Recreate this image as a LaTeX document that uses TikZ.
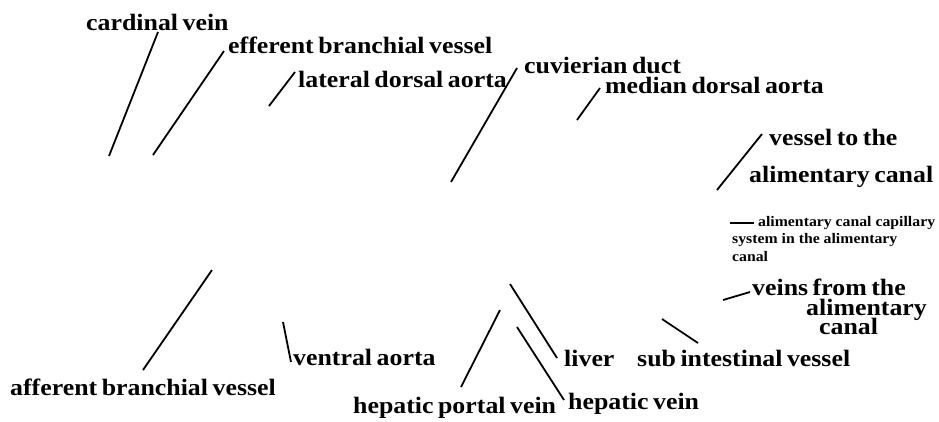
\documentclass[tikz,border=0pt]{standalone}
\usepackage{fontspec}
\setmainfont{Liberation Serif}[FakeStretch=1.1, WordSpace=0.7]
\newfontfamily\smallfam{Liberation Serif}[FakeStretch=1.08]
\begin{document}
\begin{tikzpicture}[x=1pt,y=-1pt,
  lbl/.style={anchor=base west, inner sep=0pt, font=\fontsize{23.5}{23.5}\selectfont\bfseries},
  small/.style={anchor=base west, inner sep=0pt, align=left, font=\smallfam\fontsize{14.6}{17.2}\selectfont\bfseries},
  lead/.style={line width=1.8pt, black}]
\useasboundingbox (0,0) rectangle (939,421);
% labels
\node[lbl] (cv) at (86,30) {cardinal vein};
\node[lbl] (ebv) at (228,53) {efferent branchial vessel};
\node[lbl] (lda) at (298,87) {lateral dorsal aorta};
\node[lbl] (cd) at (524,73) {cuvierian duct};
\node[lbl] (mda) at (605,93) {median dorsal aorta};
\node[lbl] (vt1) at (769,145) {vessel to the};
\node[lbl] (vt2) at (749,182) {alimentary canal};
\node[small] (cap) at (732,261) {\hspace*{26pt}alimentary canal capillary\\system in the alimentary\\canal};
\node[lbl] (vf1) at (752,295) {veins from the};
\node[lbl] (vf2) at (806,315) {alimentary};
\node[lbl] (vf3) at (819,334) {canal};
\node[lbl] (siv) at (637,366) {sub intestinal vessel};
\node[lbl] (liv) at (564,366) {liver};
\node[lbl] (hv) at (568,409) {hepatic vein};
\node[lbl] (hpv) at (353,413) {hepatic portal vein};
\node[lbl] (va) at (293,365) {ventral aorta};
\node[lbl] (abv) at (10,395) {afferent branchial vessel};
% leader line ends
\coordinate (cvA) at (158,32);  \coordinate (cvB) at (109,156);
\coordinate (ebA) at (224,51);  \coordinate (ebB) at (153,155);
\coordinate (ldA) at (295,72);  \coordinate (ldB) at (269,106);
\coordinate (cdA) at (517,68);  \coordinate (cdB) at (451,182);
\coordinate (mdA) at (600,88);  \coordinate (mdB) at (577,120);
\coordinate (vtA) at (762,134); \coordinate (vtB) at (717,190);
\coordinate (caA) at (754,223); \coordinate (caB) at (730,223);
\coordinate (vfA) at (750,292); \coordinate (vfB) at (723,300);
\coordinate (siA) at (698,343); \coordinate (siB) at (662,319);
\coordinate (liA) at (557,358); \coordinate (liB) at (510,284);
\coordinate (hvA) at (564,400); \coordinate (hvB) at (517,327);
\coordinate (hpA) at (461,387); \coordinate (hpB) at (500,310);
\coordinate (vaA) at (291,362); \coordinate (vaB) at (283,322);
\coordinate (abA) at (143,370); \coordinate (abB) at (212,270);
% leaders
\draw[lead] (cvA) -- (cvB);
\draw[lead] (ebA) -- (ebB);
\draw[lead] (ldA) -- (ldB);
\draw[lead] (cdA) -- (cdB);
\draw[lead] (mdA) -- (mdB);
\draw[lead] (vtA) -- (vtB);
\draw[lead] (caA) -- (caB);
\draw[lead] (vfA) -- (vfB);
\draw[lead] (siA) -- (siB);
\draw[lead] (liA) -- (liB);
\draw[lead] (hvA) -- (hvB);
\draw[lead] (hpA) -- (hpB);
\draw[lead] (vaA) -- (vaB);
\draw[lead] (abA) -- (abB);
\end{tikzpicture}
\end{document}
